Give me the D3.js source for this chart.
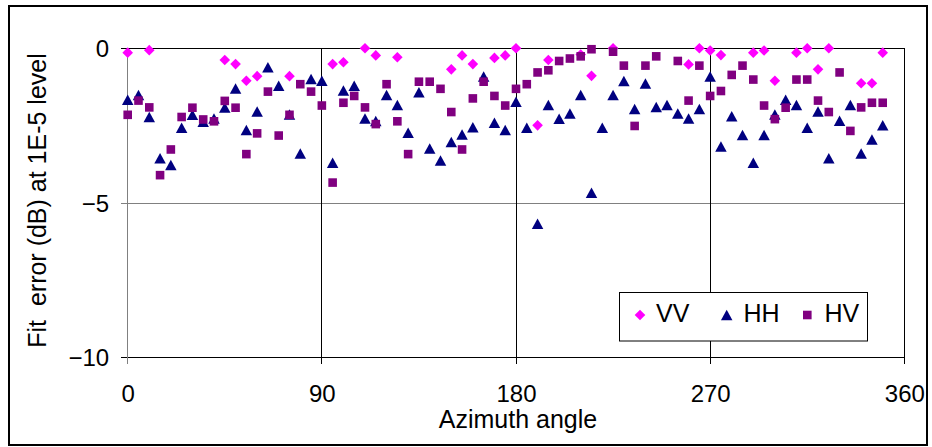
<!DOCTYPE html>
<html>
<head>
<meta charset="utf-8">
<script src="https://cdn.jsdelivr.net/npm/d3@7"></script>
<style>
  html, body { margin: 0; padding: 0; background: #fff; }
  svg { display: block; font-family: Arial, "Liberation Sans", sans-serif; }
</style>
</head>
<body>
<svg id="chart" width="932" height="447"></svg>
<script>
// ---- data ----
const angles = [0,5,10,15,20,25,30,35,40,45,50,55,60,65,70,75,80,85,90,95,100,105,110,115,120,125,130,135,140,145,150,155,160,165,170,175,180,185,190,195,200,205,210,215,220,225,230,235,240,245,250,255,260,265,270,275,280,285,290,295,300,305,310,315,320,325,330,335,340,345,350];

const vvValues = [-0.14,null,-0.06,null,null,null,null,null,null,-0.38,-0.51,-1.05,-0.90,null,null,-0.90,null,null,null,-0.51,-0.45,null,0,-0.23,null,-0.29,null,null,null,null,-0.68,-0.23,-0.51,null,-0.31,-0.23,0,null,-2.49,-0.38,null,null,-0.20,-0.89,null,0,null,null,null,null,null,null,-0.52,0,-0.07,-0.22,null,null,-0.14,-0.07,-1.05,null,-0.14,0,-0.68,0,null,null,-1.13,-1.13,-0.14];

const hhValues = [-1.66,-1.51,-2.22,-3.55,-3.77,-2.57,-2.15,-2.37,-2.27,-1.91,-1.30,-2.64,-2.04,-0.61,-1.21,-2.14,-3.40,-0.99,-1.05,-3.70,-1.36,-1.21,-2.27,-2.35,-1.51,-1.83,-2.73,-1.42,-3.24,-3.63,-3.03,-2.79,-2.55,-0.91,-2.41,-2.64,-1.73,-2.57,-5.67,-1.83,-2.28,-2.11,-1.51,-4.67,-2.57,-1.51,-1.06,-1.96,-1.14,-1.90,-1.83,-2.11,-2.27,-1.96,-0.91,-3.17,-2.20,-2.80,-3.70,-2.80,-2.14,-1.66,-1.83,-2.57,-2.04,-3.55,-2.34,-1.83,-3.40,-2.95,-2.49];

const hvValues = [-2.15,-1.69,-1.91,-4.10,-3.27,-2.22,-1.92,-2.30,-2.36,-1.70,-1.92,-3.42,-2.75,-1.40,-2.82,-2.15,-1.16,-1.40,-1.85,-4.34,-1.76,-1.54,-1.91,-2.45,-1.16,-2.36,-3.42,-1.08,-1.08,-1.31,-2.06,-3.27,-1.62,-1.08,-1.54,-1.85,-1.31,-1.16,-0.78,-0.71,-0.41,-0.33,-0.26,-0.03,null,-0.11,-0.56,-2.51,-0.56,-0.26,null,-0.41,-1.69,-0.56,-1.54,-1.38,-0.86,-0.56,-1.01,-1.85,-2.29,-1.92,-1.01,-1.01,-1.69,-2.06,-0.78,-2.67,-1.91,-1.76,-1.76];

const xTicks = [0, 90, 180, 270, 360];
const yTicks = [0, -5, -10];
const seriesNames = ["VV", "HH", "HV"];
const seriesColors = ["#FF00FF", "#000080", "#800080"];
const xTitle = "Azimuth angle";
const yTitle = "Fit\u00A0\u00A0error (dB) at 1E-5 level";

// ---- layout ----
const svg = d3.select("#chart");
const L = 127.7, R = 904.3, T = 48.3, B = 357.7;
const x = d3.scaleLinear().domain([0, 360]).range([L, R]);
const y = d3.scaleLinear().domain([-10, 0]).range([B, T]);

// outer frame
svg.append("rect").attr("x", 9).attr("y", 6).attr("width", 918).attr("height", 439)
  .attr("fill", "#fff").attr("stroke", "#000").attr("stroke-width", 2);

// horizontal gridline at -5 (gray), top border (black)
svg.append("g").selectAll("line").data(yTicks).join("line")
  .attr("x1", L - 7).attr("x2", R)
  .attr("y1", d => y(d)).attr("y2", d => y(d))
  .attr("stroke", d => d === -5 ? "#808080" : "#000")
  .attr("stroke-width", 1)
  .attr("shape-rendering", "crispEdges");

// vertical gridlines + ticks
svg.append("g").selectAll("line").data(xTicks.filter(d => d !== 0)).join("line")
  .attr("x1", d => x(d)).attr("x2", d => x(d))
  .attr("y1", T).attr("y2", B + 6.5)
  .attr("stroke", "#000").attr("stroke-width", 1)
  .attr("shape-rendering", "crispEdges");

// left axis (gray)
svg.append("line").attr("x1", x(0)).attr("x2", x(0)).attr("y1", T).attr("y2", B + 6.5)
  .attr("stroke", "#808080").attr("stroke-width", 1.3).attr("shape-rendering", "crispEdges");

// axes labels via d3 axes
const yAxis = d3.axisLeft(y).tickValues(yTicks).tickSize(0).tickPadding(18.5).tickFormat(d3.format("d"));
const gy = svg.append("g").attr("transform", `translate(${L},0)`).call(yAxis);
gy.select(".domain").remove();
gy.selectAll("text").attr("font-size", 24).attr("fill", "#000").attr("font-family", "Arial, 'Liberation Sans', sans-serif").attr("dy", "0.34em");

const xAxis = d3.axisBottom(x).tickValues(xTicks).tickSize(0).tickPadding(27.5).tickFormat(d3.format("d"));
const gx = svg.append("g").attr("transform", `translate(0,${B})`).call(xAxis);
gx.select(".domain").remove();
gx.selectAll("text").attr("font-size", 24).attr("fill", "#000").attr("font-family", "Arial, 'Liberation Sans', sans-serif");

// axis titles
svg.append("text").attr("x", (L + R) / 2 + 2).attr("y", 427.5).attr("text-anchor", "middle")
  .attr("font-size", 25).text(xTitle);
svg.append("text").attr("transform", "translate(46,200.5) rotate(-90)")
  .attr("text-anchor", "middle").attr("font-size", 25).text(yTitle);

// markers
const diamond = s => `M0,${-s}L${s},0L0,${s}L${-s},0Z`;
const triangle = (w, h) => `M0,${-h/2}L${w/2},${h/2}L${-w/2},${h/2}Z`;
const square = s => `M${-s/2},${-s/2}h${s}v${s}h${-s}Z`;
const shapes = [diamond(5.3), triangle(11.5, 10.5), square(8.6)];
const allValues = [vvValues, hhValues, hvValues];

allValues.forEach((vals, i) => {
  const pts = angles.map((a, k) => ({ a, v: vals[k] })).filter(p => p.v !== null);
  svg.append("g").selectAll("path").data(pts).join("path")
    .attr("d", shapes[i])
    .attr("transform", d => `translate(${x(d.a)},${y(d.v)})`)
    .attr("fill", seriesColors[i]);
});

// legend
const lg = svg.append("g");
lg.append("rect").attr("x", 619.5).attr("y", 292.5).attr("width", 248).attr("height", 48.5)
  .attr("fill", "#fff").attr("stroke", "#000").attr("stroke-width", 1);
const legMarkerX = [640, 726.7, 807.3];
const legTextX = [656, 743.5, 824.5];
seriesNames.forEach((n, i) => {
  lg.append("path").attr("d", shapes[i]).attr("fill", seriesColors[i])
    .attr("transform", `translate(${legMarkerX[i]},315)`);
  lg.append("text").attr("x", legTextX[i]).attr("y", 321.7).attr("font-size", 25).text(n);
});
</script>
</body>
</html>
